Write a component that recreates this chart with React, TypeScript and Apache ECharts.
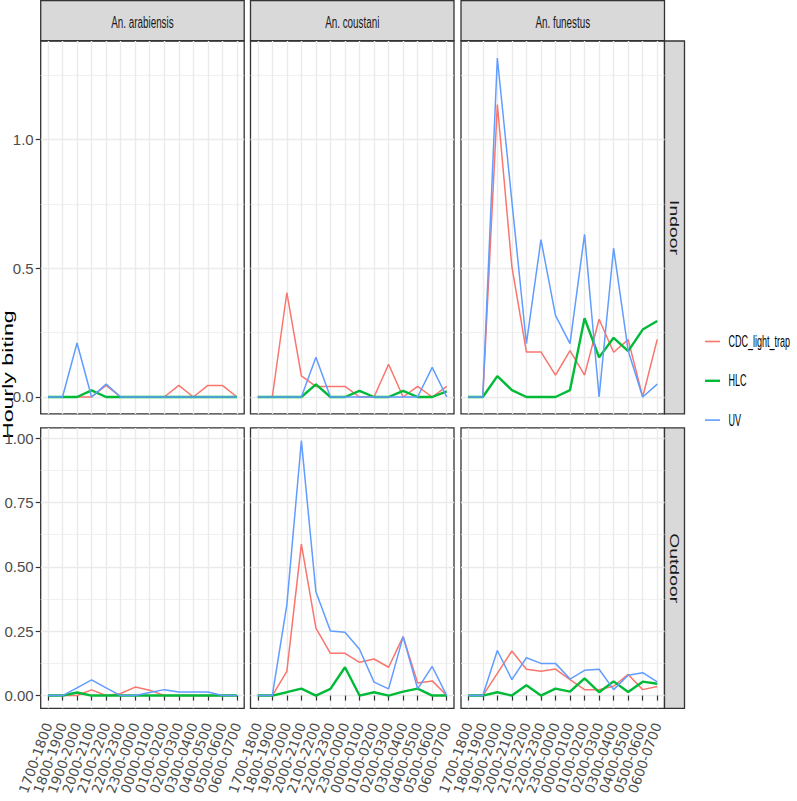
import React, { useEffect, useRef } from "react";
import * as echarts from "echarts";

// ---------- data ----------
const categories = [
  "1700-1800", "1800-1900", "1900-2000", "2000-2100", "2100-2200", "2200-2300", "2300-0000",
  "0000-0100", "0100-0200", "0200-0300", "0300-0400", "0400-0500", "0500-0600", "0600-0700",
];
const species = ["An. arabiensis", "An. coustani", "An. funestus"];
const locations = ["Indoor", "Outdoor"];
const methods = ["CDC_light_trap", "HLC", "UV"];
const methodColors = ["#F8766D", "#00BA38", "#619CFF"];

// Indoor
const indoorArabiensisCDC = [0, 0, 0, 0, 0.045, 0, 0, 0, 0, 0.045, 0, 0.045, 0.045, 0];
const indoorArabiensisHLC = [0, 0, 0, 0.026, 0, 0, 0, 0, 0, 0, 0, 0, 0, 0];
const indoorArabiensisUV = [0, 0, 0.21, 0, 0.05, 0, 0, 0, 0, 0, 0, 0, 0, 0];

const indoorCoustaniCDC = [0, 0, 0.405, 0.082, 0.041, 0.041, 0.041, 0, 0, 0.127, 0, 0.041, 0, 0.041];
const indoorCoustaniHLC = [0, 0, 0, 0, 0.049, 0, 0, 0.024, 0, 0, 0.024, 0, 0, 0.022];
const indoorCoustaniUV = [0, 0, 0, 0, 0.154, 0, 0, 0, 0, 0, 0, 0, 0.115, 0];

const indoorFunestusCDC = [0, 0, 1.136, 0.506, 0.175, 0.175, 0.085, 0.18, 0.085, 0.302, 0.174, 0.223, 0, 0.224];
const indoorFunestusHLC = [0, 0, 0.081, 0.027, 0, 0, 0, 0.027, 0.306, 0.154, 0.23, 0.178, 0.262, 0.295];
const indoorFunestusUV = [0, 0, 1.317, 0.76, 0.207, 0.611, 0.317, 0.207, 0.632, 0, 0.578, 0.18, 0, 0.05];

// Outdoor
const outdoorArabiensisCDC = [0, 0, 0, 0.022, 0, 0.008, 0.033, 0.021, 0, 0, 0, 0, 0, 0];
const outdoorArabiensisHLC = [0, 0, 0.012, 0, 0, 0, 0, 0, 0, 0, 0, 0, 0, 0];
const outdoorArabiensisUV = [0, 0, 0.03, 0.061, 0.03, 0, 0, 0.012, 0.023, 0.014, 0.014, 0.014, 0, 0];

const outdoorCoustaniCDC = [0, 0, 0.094, 0.588, 0.262, 0.164, 0.164, 0.129, 0.142, 0.11, 0.229, 0.049, 0.057, 0];
const outdoorCoustaniHLC = [0, 0, 0.013, 0.027, 0, 0.026, 0.11, 0, 0.013, 0, 0.015, 0.027, 0, 0];
const outdoorCoustaniUV = [0, 0, 0.352, 0.99, 0.403, 0.251, 0.246, 0.18, 0.052, 0.026, 0.229, 0.026, 0.113, 0];

const outdoorFunestusCDC = [0, 0, 0.086, 0.173, 0.102, 0.094, 0.103, 0.062, 0.023, 0.023, 0.036, 0.082, 0.023, 0.035];
const outdoorFunestusHLC = [0, 0, 0.013, 0, 0.04, 0, 0.027, 0.015, 0.067, 0.013, 0.055, 0.014, 0.054, 0.046];
const outdoorFunestusUV = [0, 0, 0.175, 0.062, 0.147, 0.125, 0.125, 0.064, 0.098, 0.102, 0.023, 0.079, 0.089, 0.053];

// y-axis tick labels per row
const indoorMajorTicks = [0, 0.5, 1.0];
const indoorMinorTicks = [0.25, 0.75, 1.25];
const outdoorMajorTicks = [0, 0.25, 0.5, 0.75, 1.0];
const outdoorMinorTicks = [0.125, 0.375, 0.625, 0.875];
const indoorDigits = 1;
const outdoorDigits = 2;

const yTitle = "Hourly biting";

// panel[row][col] = [CDC, HLC, UV]
const panels = [
  [
    [indoorArabiensisCDC, indoorArabiensisHLC, indoorArabiensisUV],
    [indoorCoustaniCDC, indoorCoustaniHLC, indoorCoustaniUV],
    [indoorFunestusCDC, indoorFunestusHLC, indoorFunestusUV],
  ],
  [
    [outdoorArabiensisCDC, outdoorArabiensisHLC, outdoorArabiensisUV],
    [outdoorCoustaniCDC, outdoorCoustaniHLC, outdoorCoustaniUV],
    [outdoorFunestusCDC, outdoorFunestusHLC, outdoorFunestusUV],
  ],
];
const majorTicks = [indoorMajorTicks, outdoorMajorTicks];
const minorTicks = [indoorMinorTicks, outdoorMinorTicks];
const digits = [indoorDigits, outdoorDigits];

// ---------- layout / style ----------
const SANS = "'Liberation Sans', Arial, sans-serif";
const NARROW = "'Liberation Sans Narrow', 'Arial Narrow', 'Liberation Sans', sans-serif";
const WIDE = "'DejaVu Sans', Verdana, sans-serif";
const colLefts = [40.7, 250.5, 461];
const colWidth = 203.5;
const panelsTop = 41;
const rowGap = 14;
const panelsSumH = 653.3; // heights of both panel rows together
const stripTop = 0.5;
const stripH = 40.2;
const rightStripW = 20;
const borderColor = "#333333";
const gridColor = "#EBEBEB";
const legendKeyX = 705;
const legendTextX = 728.5;
const legendTopY = 341.5;
const legendStep = 39.3;

function buildOption() {
  // ggplot-like expansion (5%) on free y scales, row heights proportional (space = "free_y")
  const ranges = panels.map((row) => {
    let mx = 0;
    row.forEach((p) => p.forEach((s) => s.forEach((v) => (mx = Math.max(mx, v)))));
    return { min: -0.05 * mx, max: 1.05 * mx };
  });
  const spans = ranges.map((r) => r.max - r.min);
  const sumSpan = spans[0] + spans[1];
  const rowH = spans.map((s) => (panelsSumH * s) / sumSpan);
  const rowTops = [panelsTop, panelsTop + rowH[0] + rowGap];

  const grids: any[] = [];
  const xAxes: any[] = [];
  const yAxes: any[] = [];
  const series: any[] = [];
  const graphics: any[] = [];

  for (let r = 0; r < 2; r++) {
    for (let c = 0; c < 3; c++) {
      const g = r * 3 + c;
      grids.push({
        left: colLefts[c],
        top: rowTops[r],
        width: colWidth,
        height: rowH[r],
        show: true,
        backgroundColor: "#FFFFFF",
        borderColor: borderColor,
        borderWidth: 1.3,
        containLabel: false,
      });
      xAxes.push({
        type: "category",
        gridIndex: g,
        data: categories,
        boundaryGap: true,
        axisLine: { show: false },
        axisTick: {
          show: r === 1,
          length: 5,
          interval: 0,
          alignWithLabel: true,
          lineStyle: { color: borderColor, width: 1.2 },
        },
        axisLabel: {
          show: r === 1,
          interval: 0,
          rotate: 70,
          margin: 15,
          color: "#4D4D4D",
          fontFamily: WIDE,
          fontSize: 13.5,
        },
        splitLine: {
          show: true,
          interval: 0,
          alignWithLabel: true,
          lineStyle: { color: gridColor, width: 1.4 },
        },
      });
      // major y axis
      yAxes.push({
        type: "value",
        gridIndex: g,
        min: ranges[r].min,
        max: ranges[r].max,
        position: "left",
        axisLine: { show: false },
        axisTick: {
          show: c === 0,
          length: 5,
          customValues: majorTicks[r],
          lineStyle: { color: borderColor, width: 1.2 },
        },
        axisLabel: {
          show: c === 0,
          customValues: majorTicks[r],
          formatter: (v: number) => v.toFixed(digits[r]),
          margin: 7,
          color: "#4D4D4D",
          fontFamily: NARROW,
          fontSize: 15,
        },
        splitLine: { show: true, lineStyle: { color: gridColor, width: 1.4 } },
      });
      // minor y axis (grid lines only)
      yAxes.push({
        type: "value",
        gridIndex: g,
        min: ranges[r].min,
        max: ranges[r].max,
        position: "left",
        axisLine: { show: false },
        axisTick: { show: false, customValues: minorTicks[r] },
        axisLabel: { show: false, customValues: minorTicks[r] },
        splitLine: { show: true, lineStyle: { color: gridColor, width: 0.7 } },
      });
      methods.forEach((m, k) => {
        series.push({
          type: "line",
          name: m,
          xAxisIndex: g,
          yAxisIndex: g * 2,
          data: panels[r][c][k],
          symbol: "none",
          silent: true,
          lineStyle: { color: methodColors[k], width: k === 1 ? 2.4 : 1.5 },
          itemStyle: { color: methodColors[k] },
        });
      });
    }
  }

  // top strips
  species.forEach((sp, c) => {
    graphics.push({
      type: "rect",
      shape: { x: colLefts[c], y: stripTop, width: colWidth, height: stripH },
      style: { fill: "#D9D9D9", stroke: borderColor, lineWidth: 1.3 },
    });
    graphics.push({
      type: "text",
      x: colLefts[c] + colWidth / 2,
      y: stripTop + stripH / 2 + 1,
      scaleX: 0.58,
      style: {
        text: sp,
        textAlign: "center",
        textVerticalAlign: "middle",
        fontFamily: SANS,
        fontSize: 17,
        fill: "#1A1A1A",
      },
    });
  });
  // right strips
  const rsx = colLefts[2] + colWidth;
  locations.forEach((loc, r) => {
    graphics.push({
      type: "rect",
      shape: { x: rsx, y: rowTops[r], width: rightStripW, height: rowH[r] },
      style: { fill: "#D9D9D9", stroke: borderColor, lineWidth: 1.3 },
    });
    graphics.push({
      type: "text",
      x: rsx + rightStripW / 2,
      y: rowTops[r] + rowH[r] / 2,
      rotation: -Math.PI / 2,
      scaleX: 1.55,
      style: {
        text: loc,
        textAlign: "center",
        textVerticalAlign: "middle",
        fontFamily: SANS,
        fontSize: 12.5,
        fill: "#1A1A1A",
      },
    });
  });
  // y title
  graphics.push({
    type: "text",
    x: 8,
    y: (panelsTop + rowTops[1] + rowH[1]) / 2,
    rotation: Math.PI / 2,
    scaleX: 1.6,
    style: {
      text: yTitle,
      textAlign: "center",
      textVerticalAlign: "middle",
      fontFamily: SANS,
      fontSize: 14.5,
      fill: "#000000",
    },
  });
  // legend (drawn as keys + labels)
  methods.forEach((m, k) => {
    const y = legendTopY + k * legendStep;
    graphics.push({
      type: "line",
      shape: { x1: legendKeyX, y1: y, x2: legendKeyX + 15, y2: y },
      style: { stroke: methodColors[k], lineWidth: k === 1 ? 2.4 : 1.6 },
    });
    graphics.push({
      type: "text",
      x: legendTextX,
      y: y,
      scaleX: 0.53,
      style: {
        text: m,
        textAlign: "left",
        textVerticalAlign: "middle",
        fontFamily: SANS,
        fontSize: 17,
        fill: "#000000",
      },
    });
  });

  return {
    animation: false,
    backgroundColor: "#FFFFFF",
    grid: grids,
    xAxis: xAxes,
    yAxis: yAxes,
    series,
    graphic: graphics,
  };
}

export default function App() {
  const ref = useRef<HTMLDivElement>(null);
  useEffect(() => {
    if (!ref.current) return;
    const chart = echarts.init(ref.current, undefined, { renderer: "svg" });
    chart.setOption(buildOption() as any);
    return () => chart.dispose();
  }, []);
  return (
    <div
      ref={ref}
      style={{ position: "absolute", left: 0, top: 0, width: 797, height: 801, background: "#fff" }}
    />
  );
}
